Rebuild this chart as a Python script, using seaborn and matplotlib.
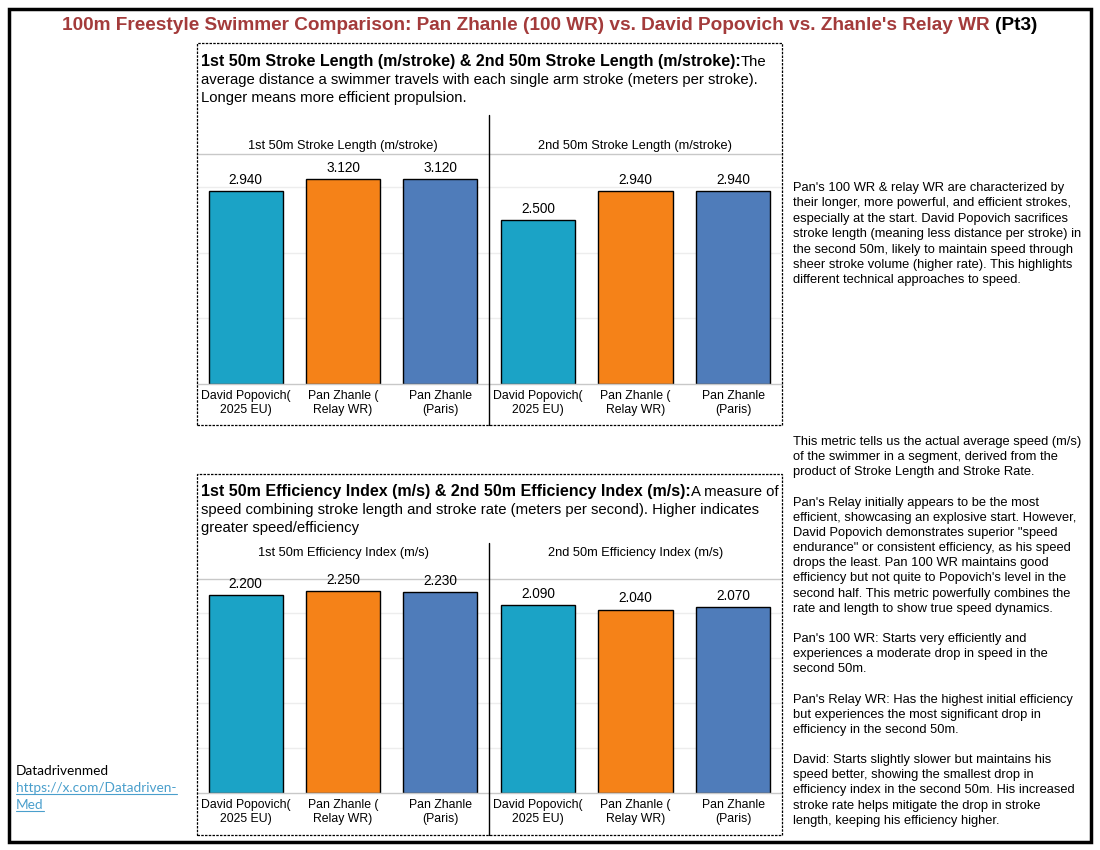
import matplotlib
matplotlib.use("Agg")
import matplotlib.pyplot as plt
import seaborn as sns
import pandas as pd
from matplotlib.lines import Line2D
from matplotlib.patches import Rectangle

# data
swimmers = ["David Popovich(\n2025 EU)", "Pan Zhanle (\nRelay WR)", "Pan Zhanle\n(Paris)"]
stroke_len_1st = [2.94, 3.12, 3.12]
stroke_len_2nd = [2.50, 2.94, 2.94]
eff_idx_1st = [2.20, 2.25, 2.23]
eff_idx_2nd = [2.09, 2.04, 2.07]
bar_colors = ["#1BA3C6", "#F58218", "#4F7CBA"]

title_main = "100m Freestyle Swimmer Comparison: Pan Zhanle (100 WR) vs. David Popovich vs. Zhanle's Relay WR "
title_tail = "(Pt3)"

sl_head_bold = "1st 50m Stroke Length (m/stroke) & 2nd 50m Stroke Length (m/stroke):"
sl_head_rest = ["The", "average distance a swimmer travels with each single arm stroke (meters per stroke).",
                "Longer means more efficient propulsion."]
ei_head_bold = "1st 50m Efficiency Index (m/s) & 2nd 50m Efficiency Index (m/s):"
ei_head_rest = ["A measure of", "speed combining stroke length and stroke rate (meters per second). Higher indicates",
                "greater speed/efficiency"]

note_top = ("Pan's 100 WR & relay WR are characterized by\n"
            "their longer, more powerful, and efficient strokes,\n"
            "especially at the start. David Popovich sacrifices\n"
            "stroke length (meaning less distance per stroke) in\n"
            "the second 50m, likely to maintain speed through\n"
            "sheer stroke volume (higher rate). This highlights\n"
            "different technical approaches to speed.")
note_bottom = ("This metric tells us the actual average speed (m/s)\n"
               "of the swimmer in a segment, derived from the\n"
               "product of Stroke Length and Stroke Rate.\n\n"
               "Pan's Relay initially appears to be the most\n"
               "efficient, showcasing an explosive start. However,\n"
               "David Popovich demonstrates superior \"speed\n"
               "endurance\" or consistent efficiency, as his speed\n"
               "drops the least. Pan 100 WR maintains good\n"
               "efficiency but not quite to Popovich's level in the\n"
               "second half. This metric powerfully combines the\n"
               "rate and length to show true speed dynamics.\n\n"
               "Pan's 100 WR: Starts very efficiently and\n"
               "experiences a moderate drop in speed in the\n"
               "second 50m.\n\n"
               "Pan's Relay WR: Has the highest initial efficiency\n"
               "but experiences the most significant drop in\n"
               "efficiency in the second 50m.\n\n"
               "David: Starts slightly slower but maintains his\n"
               "speed better, showing the smallest drop in\n"
               "efficiency index in the second 50m. His increased\n"
               "stroke rate helps mitigate the drop in stroke\n"
               "length, keeping his efficiency higher.")

sns.set_style("white")
plt.rcParams["font.family"] = ["Liberation Sans", "DejaVu Sans"]
plt.rcParams["text.color"] = "black"
plt.rcParams["xtick.color"] = "black"

W, H = 1100, 850
fig = plt.figure(figsize=(11, 8.5), dpi=100)


def fx(x):
    return x / W


def fy(y):
    return 1 - y / H


def fline(x0, y0, x1, y1, **kw):
    fig.add_artist(Line2D([fx(x0), fx(x1)], [fy(y0), fy(y1)], transform=fig.transFigure, **kw))


def frect(x0, y0, x1, y1, **kw):
    fig.add_artist(Rectangle((fx(x0), fy(y1)), fx(x1) - fx(x0), fy(y0) - fy(y1),
                             transform=fig.transFigure, fill=False, **kw))


renderer = fig.canvas.get_renderer()

# outer border
frect(9, 9, 1091, 842, lw=2.5, edgecolor="black")

# title (two colours)
t1 = fig.text(0, fy(30), title_main, fontsize=13.7, fontweight="bold", color="#A33B3B", va="baseline")
t2 = fig.text(0, fy(30), title_tail, fontsize=13.7, fontweight="bold", color="black", va="baseline")
w1 = t1.get_window_extent(renderer).width
w2 = t2.get_window_extent(renderer).width
x_start = (W - (w1 + w2)) / 2
t1.set_x(fx(x_start))
t2.set_x(fx(x_start + w1))


def header(y_base, bold, rest):
    tb = fig.text(fx(201), fy(y_base), bold, fontsize=11.55, fontweight="bold", va="baseline")
    wb = tb.get_window_extent(renderer).width
    fig.text(fx(201 + wb), fy(y_base), rest[0], fontsize=10.75, va="baseline")
    fig.text(fx(201), fy(y_base + 18), rest[1], fontsize=10.75, va="baseline")
    fig.text(fx(201), fy(y_base + 36), rest[2], fontsize=10.75, va="baseline")


def facet(x0, x1, y_top, y_base, y_label, values, label, ymax, ticks):
    ax = fig.add_axes([fx(x0), fy(y_base), fx(x1) - fx(x0), fy(y_top) - fy(y_base)])
    df = pd.DataFrame({"swimmer": swimmers, "value": values})
    sns.barplot(data=df, x="swimmer", y="value", hue="swimmer", palette=bar_colors, saturation=1,
                edgecolor="black", linewidth=1, width=0.76, legend=False, ax=ax)
    for c in ax.containers:
        ax.bar_label(c, fmt="%.3f", padding=3, fontsize=9.8, color="black")
    ax.set_ylim(0, ymax)
    ax.set_yticks(ticks)
    ax.yaxis.grid(True, color="#EDEDED", lw=1)
    ax.set_axisbelow(True)
    ax.tick_params(left=False, labelleft=False, bottom=False, pad=1, labelsize=8.8)
    for t in ax.get_xticklabels():
        t.set_linespacing(1.22)
    ax.set_xlabel("")
    ax.set_ylabel("")
    for s in ["left", "right"]:
        ax.spines[s].set_visible(False)
    for s in ["top", "bottom"]:
        ax.spines[s].set_color("#C8C8C8")
        ax.spines[s].set_linewidth(1)
    fig.text(fx((x0 + x1) / 2), fy(y_label), label, fontsize=9.2, ha="center", va="center")
    return ax


# top panel: stroke length
frect(197, 43, 782, 425, lw=0.9, edgecolor="black", linestyle=(0, (2, 1)))
header(66, sl_head_bold, sl_head_rest)
facet(197, 489, 154, 384, 146, stroke_len_1st, "1st 50m Stroke Length (m/stroke)", 3.5, [1, 2, 3])
facet(489, 782, 154, 384, 146, stroke_len_2nd, "2nd 50m Stroke Length (m/stroke)", 3.5, [1, 2, 3])
fline(489, 115, 489, 425, color="black", lw=1)

# bottom panel: efficiency index
frect(197, 474, 782, 835, lw=0.9, edgecolor="black", linestyle=(0, (2, 1)))
header(496, ei_head_bold, ei_head_rest)
facet(197, 489, 579, 793, 553, eff_idx_1st, "1st 50m Efficiency Index (m/s)", 2.38, [0.5, 1, 1.5, 2])
facet(489, 782, 579, 793, 553, eff_idx_2nd, "2nd 50m Efficiency Index (m/s)", 2.38, [0.5, 1, 1.5, 2])
fline(489, 543, 489, 835, color="black", lw=1)

# side notes
fig.text(fx(793), fy(182), note_top, fontsize=9.3, va="top", linespacing=1.375)
fig.text(fx(793), fy(436), note_bottom, fontsize=9.3, va="top", linespacing=1.35)

# credit
fig.text(fx(16), fy(775), "Datadrivenmed", fontsize=9.8, family=["Lato", "DejaVu Sans"], va="baseline")
link_color = "#4A9FCC"
for i, s in enumerate(["https://x.com/Datadriven-", "Med"]):
    yb = 792 + i * 17
    tl = fig.text(fx(16), fy(yb), s, fontsize=9.8, family=["Lato", "DejaVu Sans"], color=link_color, va="baseline")
    wl = tl.get_window_extent(renderer).width
    fline(16, yb + 2, 16 + wl, yb + 2, color=link_color, lw=0.8)

fig.savefig("out.png", dpi=100)
